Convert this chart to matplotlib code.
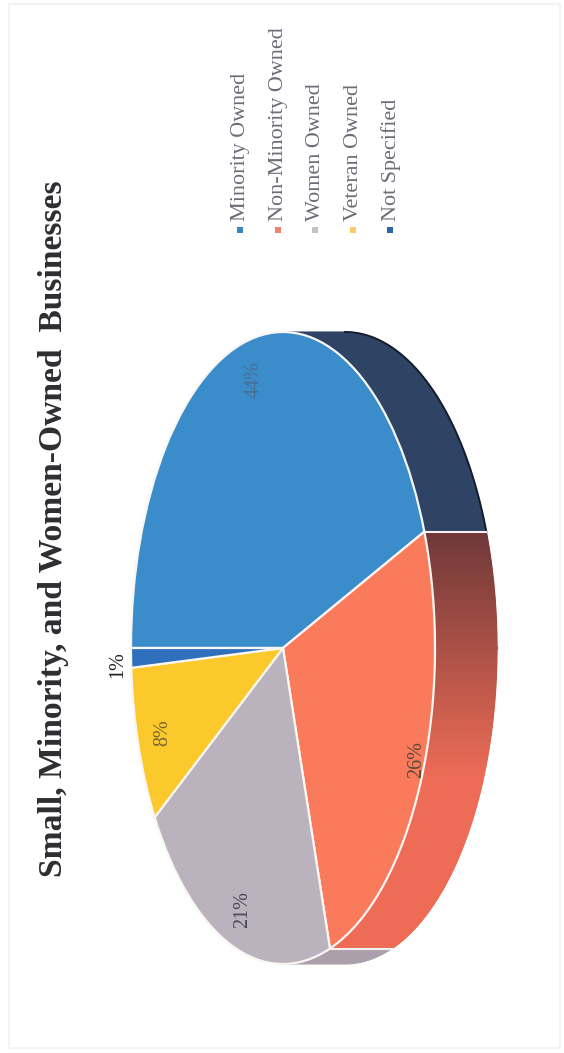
import numpy as np
import matplotlib.pyplot as plt
from matplotlib.colors import to_rgb
from matplotlib.patches import Rectangle

W, H = 564, 1053

title = "Small, Minority, and Women-Owned  Businesses"
categories = ["Minority Owned", "Non-Minority Owned", "Women Owned", "Veteran Owned", "Not Specified"]
values = [44, 26, 21, 8, 1]
colors = ["#3A8CCB", "#F97B5C", "#BAB2BC", "#FBC92B", "#2F70BC"]
legend_colors = ["#3A86BE", "#F0806E", "#C4C0C6", "#FBC96A", "#2F66A8"]

# pixel position of the percent labels
pct_pos = [(254, 380), (417, 760), (243, 909), (163, 733), (118, 665)]
pct_colors = ["#4A6F92", "#5A4A3A", "#4A4A55", "#7A6530", "#222222"]

# ellipse centre and radii in the picture, side depth
cx, cy, rx, ry = 283, 648, 152, 316
depth = 62 / rx
start = 180


def px(x, y):
    return x / W, 1 - y / H


def side_patch(a0, a1, color):
    t = np.radians(np.linspace(a0, a1, 40))
    xs = np.r_[np.cos(t), np.cos(t[::-1]) + depth]
    ys = np.r_[np.sin(t), np.sin(t[::-1])]
    ax.fill(xs, ys, color=color, lw=0.8, zorder=0.5)


fig = plt.figure(figsize=(W / 100, H / 100), dpi=100, facecolor="white")
ax = fig.add_axes([0, 0, 1, 1])

ax.pie(values, colors=colors, startangle=start, counterclock=False, radius=1,
       wedgeprops=dict(edgecolor="#FAF6F4", linewidth=1.6))
ax.set_aspect("auto")
ax.set_xlim(-cx / rx, (W - cx) / rx)
ax.set_ylim((cy - H) / ry, cy / ry)

# angles of the slice borders, clockwise from the start
edges = start - np.cumsum([0] + values) * 3.6

# navy side of the first slice, only the part that faces the viewer
side_patch(90, edges[1], "#2F4465")
t = np.radians(np.linspace(90, edges[1], 60))
ax.plot(np.cos(t) + depth, np.sin(t), color="#141C30", lw=1.4, zorder=0.6)

# second slice side goes from dark brown to the slice colour
dark = np.array(to_rgb("#6E3838"))
light = np.array(to_rgb("#EE6C56"))
steps = np.linspace(edges[1], edges[2], 361)
for a0, a1 in zip(steps[:-1], steps[1:]):
    f = np.clip((np.sin(np.radians(edges[1])) - np.sin(np.radians(a0))) / 0.78, 0, 1)
    side_patch(a0, a1, dark + (light - dark) * f)

# third slice side
side_patch(edges[2], -90, "#AC9FAC")

for a in edges[1:3]:
    r = np.radians(a)
    ax.plot([np.cos(r), np.cos(r) + depth], [np.sin(r), np.sin(r)],
            color="#F4F0EE", lw=1.5, zorder=0.7)

for v, (x, y), c in zip(values, pct_pos, pct_colors):
    fig.text(*px(x, y), f"{v}%", rotation=90, ha="center", va="center",
             family="Liberation Serif", fontsize=14.5, color=c)

fig.text(*px(54, 529), title, rotation=90, ha="center", va="center",
         family="Liberation Serif", weight="bold", fontsize=24.2, color="#2E2E32")

# legend, turned with the page
for i, (name, c) in enumerate(zip(categories, legend_colors)):
    lx = 240 + i * 37.5
    ax.scatter((lx - cx) / rx, (cy - 230) / ry, marker="s", s=18, color=c, lw=0, zorder=3)
    fig.text(*px(lx + 1, 221), name, rotation=90, ha="center", va="bottom",
             family="Liberation Serif", fontsize=15.9, color="#6C6C78")

# edge of the scanned page
fig.add_artist(Rectangle(px(9, 1048), (560 - 9) / W, (1048 - 4) / H,
                         transform=fig.transFigure, fill=False,
                         edgecolor="#F3F3F3", lw=1.5))

fig.savefig("out.png", dpi=100)
